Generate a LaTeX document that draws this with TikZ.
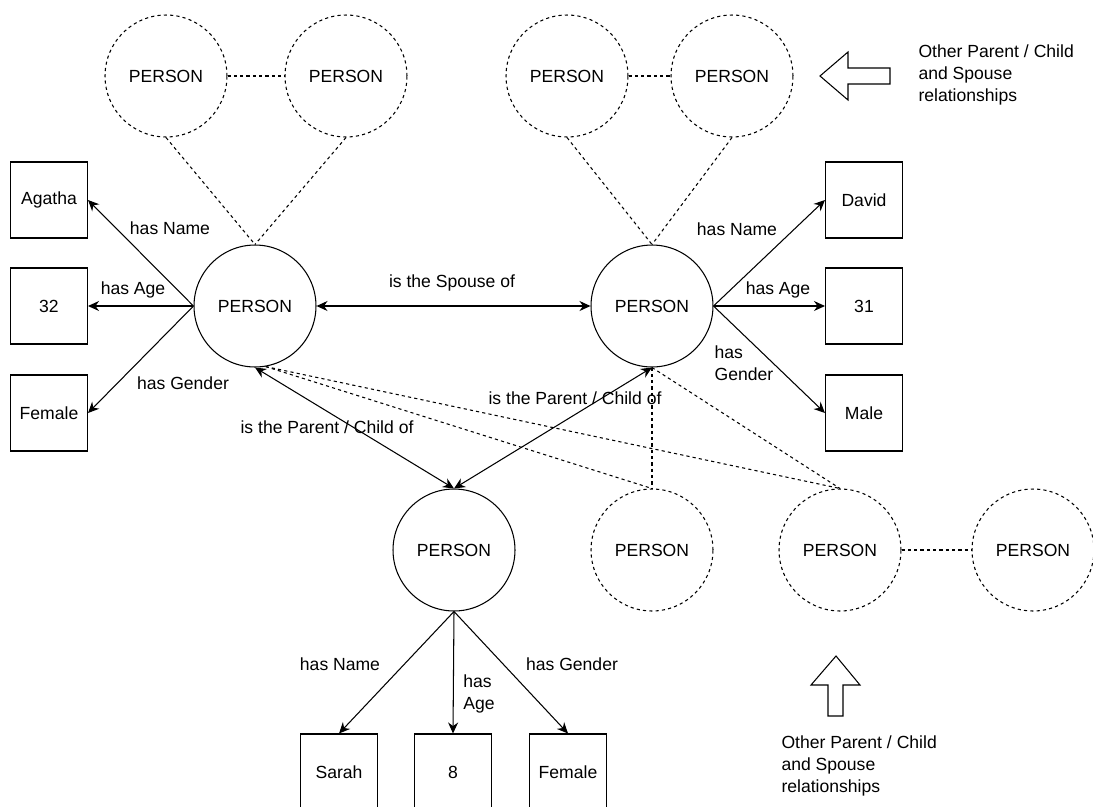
\documentclass[tikz,border=0pt]{standalone}
\usepackage{fontspec}
\setmainfont{Liberation Sans}
\usetikzlibrary{arrows.meta}

\begin{document}
\begin{tikzpicture}[x=0.02cm, y=-0.02cm, font=\fontsize{10}{12.5}\selectfont, line width=0.6pt,
  person/.style={circle, draw, minimum size=2.44cm, inner sep=0pt},
  other/.style={person, dash pattern=on 1.8pt off 1.8pt},
  value/.style={draw, minimum width=1.54cm, minimum height=1.52cm, inner sep=0pt},
  link/.style={-{Stealth[length=2.2mm, width=2mm]}},
  mutual/.style={{Stealth[length=2.2mm, width=2mm]}-{Stealth[length=2.2mm, width=2mm]}},
  loose/.style={dash pattern=on 1.8pt off 1.8pt},
  hollow/.style={draw, line join=miter}]
\clip (0,0) rectangle (1093,806);

% the family
\node[person] (pL) at (255,306) {PERSON};
\node[person] (pR) at (652,306) {PERSON};
\node[person] (pB) at (454,550) {PERSON};

% other relatives
\node[other] (tl1) at (166,76) {PERSON};
\node[other] (tl2) at (346,76) {PERSON};
\node[other] (tr1) at (567,76) {PERSON};
\node[other] (tr2) at (732,76) {PERSON};
\node[other] (bm) at (652,550) {PERSON};
\node[other] (br) at (840,550) {PERSON};
\node[other] (bf) at (1033,550) {PERSON};

% values
\node[value] (agatha) at (49,200) {Agatha};
\node[value] (age32) at (49,306) {32};
\node[value] (femL) at (49,413) {Female};
\node[value] (david) at (864,200) {David};
\node[value] (age31) at (864,306) {31};
\node[value] (male) at (864,413) {Male};
\node[value] (sarah) at (339,772) {Sarah};
\node[value] (age8) at (453,772) {8};
\node[value] (femB) at (568,772) {Female};

% attributes
\draw[link] (pL.west) -- (agatha.east);
\draw[link] (pL.west) -- (age32.east);
\draw[link] (pL.west) -- (femL.east);
\draw[link] (pR.east) -- (david.west);
\draw[link] (pR.east) -- (age31.west);
\draw[link] (pR.east) -- (male.west);
\draw[link] (pB.south) -- (sarah.north);
\draw[link] (pB.south) -- (age8.north);
\draw[link] (pB.south) -- (femB.north);
\node (lbNameL) at (170,228) {has Name};
\node (lbAgeL) at (133,290) {has Age};
\node (lbGenL) at (183,383) {has Gender};
\node (lbNameR) at (737,229) {has Name};
\node (lbAgeR) at (778,290) {has Age};
\node[align=left] (lbGenR) at (744,363) {has\\Gender};
\node (lbNameB) at (340,664) {has Name};
\node[align=left] (lbAgeB) at (479,694) {has\\Age};
\node (lbGenB) at (572,664) {has Gender};

% relationships
\draw[mutual] (pL.east) -- (pR.west);
\draw[mutual] (pL.south) -- (pB.north);
\draw[mutual] (pR.south) -- (pB.north);
\node (lbSpouse) at (452,283) {is the Spouse of};
\node (lbParL) at (327,427) {is the Parent / Child of};
\node (lbParR) at (575,398) {is the Parent / Child of};

% other links
\draw[loose] (tl1.east) -- (tl2.west);
\draw[loose] (tr1.east) -- (tr2.west);
\draw[loose] (br.east) -- (bf.west);
\draw[loose] (tl1.south) -- (pL.north);
\draw[loose] (tl2.south) -- (pL.north);
\draw[loose] (tr1.south) -- (pR.north);
\draw[loose] (tr2.south) -- (pR.north);
\draw[loose] (pL.-80) -- (bm.north);
\draw[loose] (pL.-80) -- (br.north);
\draw[loose] (pR.south) -- (bm.north);
\draw[loose] (pR.south) -- (br.north);

% notes
\draw[hollow] (820,76) -- (848,52) -- (848,68) -- (890,68) -- (890,84) -- (848,84) -- (848,100) -- cycle;
\node[align=left, anchor=north west, inner sep=0pt] (noteTop) at (918,44) {Other Parent / Child\\and Spouse\\relationships};
\draw[hollow] (836,656) -- (860,685) -- (843,685) -- (843,716) -- (828,716) -- (828,685) -- (811,685) -- cycle;
\node[align=left, anchor=north west, inner sep=0pt] (noteBot) at (781,735) {Other Parent / Child\\and Spouse\\relationships};
\end{tikzpicture}
\end{document}
